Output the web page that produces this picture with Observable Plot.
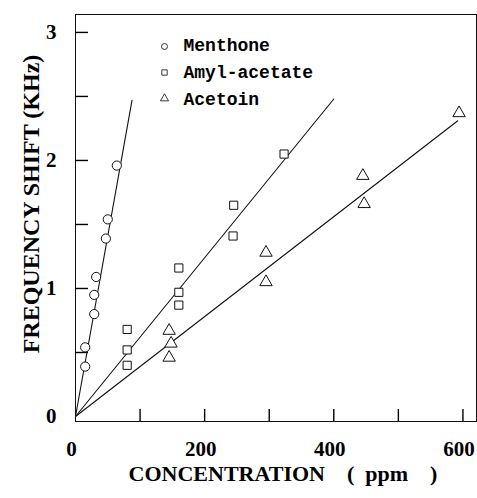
<!DOCTYPE html>
<html>
<head>
<meta charset="utf-8">
<script src="https://cdn.jsdelivr.net/npm/d3@7"></script>
<script src="https://cdn.jsdelivr.net/npm/@observablehq/plot@0.6"></script>
<style>
  html, body { margin: 0; padding: 0; background: #fff; }
  #chart { width: 477px; height: 498px; }
</style>
</head>
<body>
<div id="chart"></div>
<script>
// ---- data ----
const seriesNames = ["Menthone", "Amyl-acetate", "Acetoin"];
const seriesSymbols = ["circle", "square", "triangle"];

const menthoneX = [15, 15, 29, 29, 32, 47, 50, 64];
const menthoneY = [0.39, 0.54, 0.80, 0.95, 1.09, 1.39, 1.54, 1.96];

const amylX = [80, 80, 80, 160, 160, 160, 244, 245, 323];
const amylY = [0.40, 0.52, 0.68, 0.87, 0.97, 1.16, 1.41, 1.65, 2.05];

const acetoinX = [145, 148, 145, 295, 295, 445, 447, 594];
const acetoinY = [0.46, 0.57, 0.67, 1.05, 1.28, 1.88, 1.66, 2.37];

// fitted straight lines (start and end)
const menthoneFitX = [0, 87.5], menthoneFitY = [0, 2.47];
const amylFitX = [0, 400], amylFitY = [0, 2.48];
const acetoinFitX = [0, 592], acetoinFitY = [0, 2.31];

const xTicks = [100, 200, 300, 400, 500, 600];
const xTickLabels = [0, 200, 400, 600];
const yTicks = [0.5, 1, 1.5, 2, 2.5, 3];
const yTickLabels = [0, 1, 2, 3];

const xLabel = "CONCENTRATION\u2003(\u2002ppm\u2003)";
const yLabel = "FREQUENCY SHIFT (KHz)";

// ---- tables built from the arrays ----
const points = [
  ...menthoneX.map((x, i) => ({s: seriesNames[0], x, y: menthoneY[i]})),
  ...amylX.map((x, i) => ({s: seriesNames[1], x, y: amylY[i]})),
  ...acetoinX.map((x, i) => ({s: seriesNames[2], x, y: acetoinY[i]}))
];
const fits = [
  ...menthoneFitX.map((x, i) => ({s: seriesNames[0], x, y: menthoneFitY[i]})),
  ...amylFitX.map((x, i) => ({s: seriesNames[1], x, y: amylFitY[i]})),
  ...acetoinFitX.map((x, i) => ({s: seriesNames[2], x, y: acetoinFitY[i]}))
];

const W = 477, H = 498, ML = 75, MR = 1, MT = 14, MB = 77;
const frameW = W - ML - MR, frameH = H - MT - MB;

const serif = "'Liberation Serif', 'Times New Roman', serif";
const mono = "'Liberation Mono', 'DejaVu Sans Mono', monospace";

const legendMarks = seriesNames.flatMap((name, i) => [
  Plot.dot([name], {frameAnchor: "top-left", dx: 89, dy: 32 + i * 26,
    symbol: seriesSymbols[i], r: 3, stroke: "#222", fill: "white", strokeWidth: 0.9}),
  Plot.text([name], {frameAnchor: "top-left", dx: 108, dy: 31 + i * 27,
    textAnchor: "start", lineAnchor: "middle", fontFamily: mono, fontWeight: "bold",
    fontSize: 18, fill: "#000"})
]);

const chart = Plot.plot({
  width: W,
  height: H,
  marginLeft: ML,
  marginRight: MR,
  marginTop: MT,
  marginBottom: MB,
  style: {background: "white", color: "#000", fontFamily: serif},
  x: {domain: [0, 621], axis: null},
  y: {domain: [-0.039, 3.14], axis: null},
  symbol: {domain: seriesNames, range: seriesSymbols},
  marks: [
    Plot.frame({stroke: "#111", strokeWidth: 1}),
    // inward ticks
    Plot.tickY(yTicks, {y: d => d, insetRight: frameW - 13, stroke: "#000", strokeWidth: 1.4}),
    Plot.tickX(xTicks, {x: d => d, insetTop: frameH - 12, stroke: "#000", strokeWidth: 1.4}),
    // tick labels
    Plot.axisY({ticks: yTickLabels, tickSize: 0, tickPadding: 19, label: null,
      fontSize: 21, fontWeight: "bold", fontFamily: serif, tickFormat: d => String(d)}),
    Plot.axisX({ticks: xTickLabels, tickSize: 0, tickPadding: 20, dx: -4, label: null,
      fontSize: 21, fontWeight: "bold", fontFamily: serif, tickFormat: d => String(d)}),
    // axis titles
    Plot.text([xLabel], {frameAnchor: "bottom", dx: 7, dy: 52, lineAnchor: "middle",
      fontSize: 22, fontWeight: "bold", fontFamily: serif, fill: "#000"}),
    Plot.text([yLabel], {frameAnchor: "left", dx: -44, dy: -14, rotate: -90,
      textAnchor: "middle", lineAnchor: "middle",
      fontSize: 24, fontWeight: "bold", fontFamily: serif, fill: "#000", letterSpacing: 1}),
    // fitted lines
    Plot.line(fits, {x: "x", y: "y", z: "s", stroke: "#111", strokeWidth: 1.1}),
    // data points
    Plot.dot(points, {x: "x", y: "y", symbol: "s", r: 4.6, stroke: "#111", fill: "white", strokeWidth: 1}),
    ...legendMarks
  ]
});

document.getElementById("chart").appendChild(chart);
</script>
</body>
</html>
